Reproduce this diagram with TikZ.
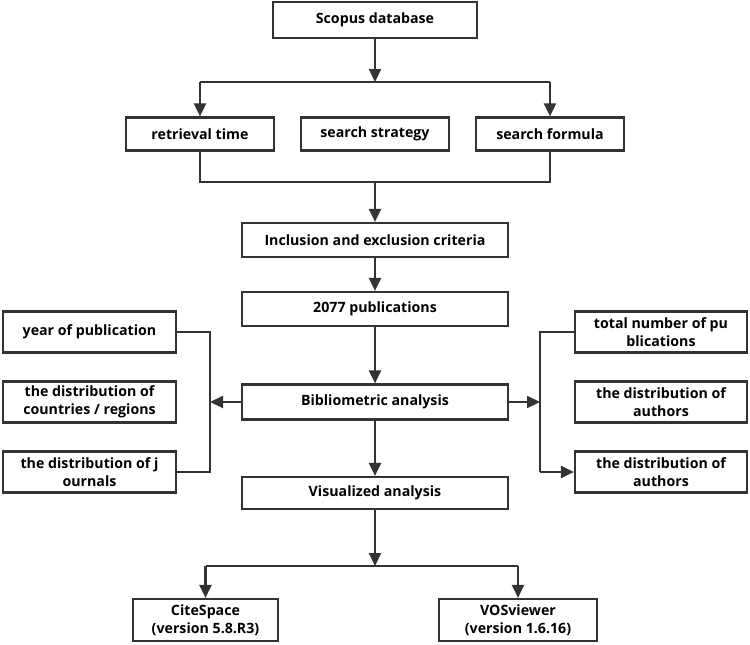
\documentclass[tikz,border=0pt]{standalone}
\usepackage{fontspec}
\setmainfont{Open Sans}
\usepackage{tikz}
\usetikzlibrary{arrows.meta}

\begin{document}
\begin{tikzpicture}[x=1pt,y=-1pt]
			\tikzset{font=\bfseries\fontsize{14.2}{18}\selectfont,align=center}
			
			\tikzset{box/.style = {shape=rectangle,draw=black!80,line width=2.2pt,inner sep=1pt}}
			
			\tikzset{edge/.style = {draw=black!80,line width=2.2pt}}
			
			\tikzset{arr/.style = {edge,-{Triangle[length=13pt,width=12pt]}}}
			
			\useasboundingbox (0,0) rectangle (750,645);
			
			% boxes
			
			\node[box,minimum width=204,minimum height=36] (scopus) at (375,20) {Scopus database};
			
			\node[box,minimum width=148,minimum height=33] (ret) at (200,134) {retrieval time};
			
			\node[box,minimum width=148,minimum height=33] (strat) at (375,134) {search strategy};
			
			\node[box,minimum width=148,minimum height=33] (form) at (550,134) {search formula};
			
			\node[box,minimum width=266,minimum height=34] (incl) at (375,240) {Inclusion and exclusion criteria};
			
			\node[box,minimum width=266,minimum height=34] (pub) at (375,309) {2077 publications};
			
			\node[box,minimum width=266,minimum height=35] (biblio) at (375,402) {Bibliometric analysis};
			
			\node[box,minimum width=266,minimum height=32] (visual) at (375,493) {Visualized analysis};
			
			\node[box,minimum width=173,minimum height=41] (year) at (89.5,332) {year of publication};
			
			\node[box,minimum width=173,minimum height=41] (country) at (89.5,402) {the distribution of\\countries / regions};
			
			\node[box,minimum width=173,minimum height=41] (journal) at (89.5,472) {the distribution of j\\ournals};
			
			\node[box,minimum width=172,minimum height=41] (total) at (661,332) {total number of pu\\blications};
			
			\node[box,minimum width=172,minimum height=41] (authA) at (661,402) {the distribution of\\authors};
			
			\node[box,minimum width=172,minimum height=41] (authB) at (661,472) {the distribution of\\authors};
			
			\node[box,minimum width=145,minimum height=42] (cite) at (205.5,620) {CiteSpace\\(version 5.8.R3)};
			
			\node[box,minimum width=158,minimum height=42] (vos) at (518,620) {VOSviewer\\(version 1.6.16)};
			
			% junctions
			
			\coordinate (top) at (375,82);
			
			\coordinate (mid) at (375,182);
			
			\coordinate (low) at (375,566);
			
			\coordinate (left) at (210,402);
			
			\coordinate (right) at (540,402);
			
			%edges
			
			\draw[arr] (scopus) -- (top);
			\draw[edge] (ret |- top) -- (form |- top);
			\draw[arr] (ret |- top) -- (ret);
			\draw[arr] (form |- top) -- (form);
			\draw[edge] (ret) -- (ret |- mid) -- (form |- mid) -- (form);
			\draw[arr] (mid) -- (incl);
			\draw[arr] (incl) -- (pub);
			\draw[arr] (pub) -- (biblio);
			\draw[arr] (biblio) -- (visual);
			\draw[arr] (biblio) -- (left);
			\draw[edge] (year) -- (left |- year) -- (left |- journal) -- (journal);
			\draw[arr] (biblio) -- (right);
			\draw[edge] (total) -- (right |- total) -- (right |- authB);
			\draw[arr] (right |- authB) -- (authB);
			\draw[arr] (visual) -- (low);
			\draw[edge] (cite |- low) -- (vos |- low);
			\draw[arr] (cite |- low) -- (cite);
			\draw[arr] (vos |- low) -- (vos);
\end{tikzpicture}
\end{document}
